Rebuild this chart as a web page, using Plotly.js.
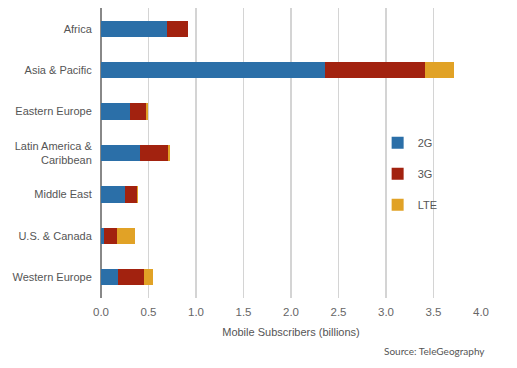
<!DOCTYPE html>
<html><head><meta charset="utf-8">
<script src="https://cdn.plot.ly/plotly-3.0.1.min.js"></script>
<style>body{margin:0;background:#fff}#c{width:517px;height:368px}</style>
</head><body><div id="c"></div>
<script>
const regions = ["Africa","Asia & Pacific","Eastern Europe","Latin America &<br>Caribbean","Middle East","U.S. & Canada","Western Europe"];
const g2  = [0.69, 2.36, 0.31, 0.415, 0.257, 0.03, 0.184];
const g3  = [0.225, 1.055, 0.165, 0.285, 0.123, 0.136, 0.27];
const lte = [0.005, 0.305, 0.02, 0.025, 0.012, 0.19, 0.095];
const seriesNames = ["2G","3G","LTE"];
const colors = ["#2b6fa8","#a2220f","#e1a226"];
const xTicks = [0,0.5,1,1.5,2,2.5,3,3.5,4];
const xTickText = ["0.0","0.5","1.0","1.5","2.0","2.5","3.0","3.5","4.0"];

const vals = [g2,g3,lte];
const traces = vals.map((v,i)=>({
  type:"bar", orientation:"h", name:seriesNames[i], x:v, y:regions,
  marker:{color:colors[i], line:{width:0}}, legendgroup:"g"+i
}));

const layout = {
  width:517, height:368,
  margin:{l:100.5, r:36, t:8, b:70},
  barmode:"stack", bargap:0.61,
  paper_bgcolor:"#fff", plot_bgcolor:"#fff",
  font:{family:"Liberation Sans, Arial, sans-serif", size:11, color:"#555"},
  xaxis:{range:[0,4], tickvals:xTicks, ticktext:xTickText, showgrid:true, gridcolor:"#d4d4d4", gridwidth:1.5,
    zeroline:true, zerolinecolor:"#888", zerolinewidth:1.5, ticks:"outside", ticklen:3, tickcolor:"rgba(0,0,0,0)", fixedrange:true,
    title:{text:"Mobile Subscribers (billions)", font:{size:11, color:"#555"}, standoff:11},
    tickfont:{size:11.5, color:"#666"}},
  yaxis:{autorange:"reversed", categoryorder:"array", categoryarray:regions, showgrid:false, zeroline:false,
    ticks:"outside", ticklen:6, tickcolor:"rgba(0,0,0,0)", tickfont:{size:11, color:"#555"}},
  showlegend:true,
  legend:{x:0.728, y:0.585, xanchor:"left", yanchor:"top", bgcolor:"rgba(0,0,0,0)", font:{size:11,color:"#555"},
    tracegroupgap:12, itemwidth:30},
  annotations:[{text:"Source: TeleGeography", xref:"paper", yref:"paper", x:1.015, y:-0.155, xanchor:"right", yanchor:"top",
    showarrow:false, font:{family:"Lato, sans-serif", size:10, color:"#555"}}]
};
Plotly.newPlot("c", traces, layout, {displayModeBar:false, staticPlot:true});
</script></body></html>
